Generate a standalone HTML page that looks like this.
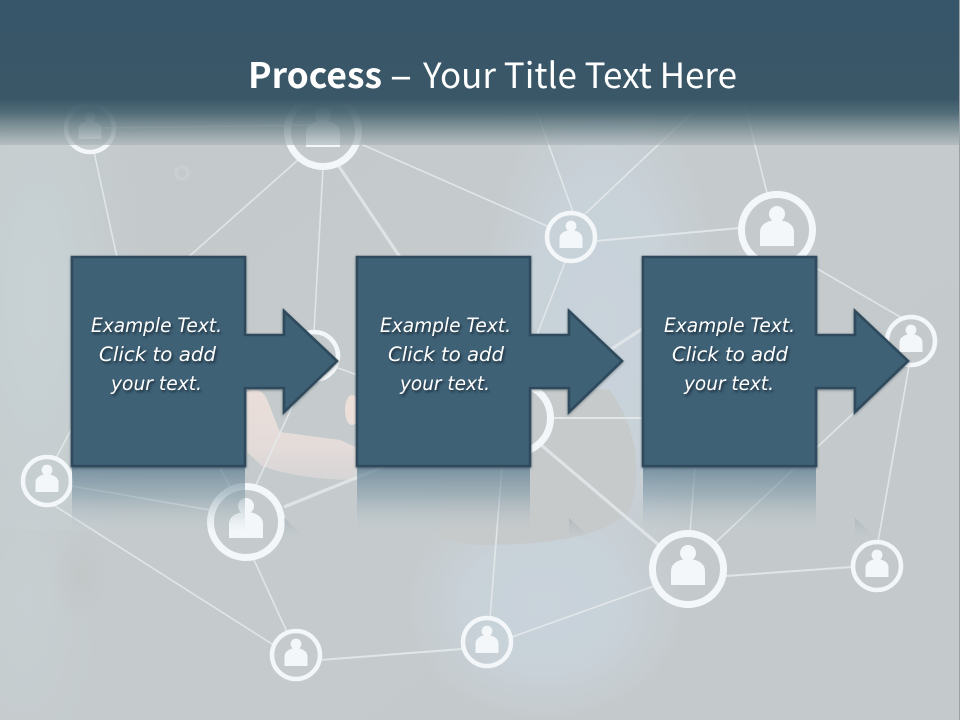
<!DOCTYPE html>
<html><head><meta charset="utf-8"><title>Process</title>
<style>html,body{margin:0;padding:0;width:960px;height:720px;overflow:hidden;background:#c3c9cb}svg{display:block}</style></head>
<body>
<svg xmlns="http://www.w3.org/2000/svg" width="960" height="720" viewBox="0 0 960 720">
<defs>
<linearGradient id="bg" x1="0" y1="0" x2="1" y2="1"><stop offset="0" stop-color="#c4c9ca"/><stop offset=".5" stop-color="#c5cbcd"/><stop offset="1" stop-color="#c4c9cb"/></linearGradient>
<linearGradient id="hd" x1="0" y1="0" x2="0" y2="1"><stop offset="0" stop-color="#38566a"/><stop offset=".68" stop-color="#3a5768"/><stop offset=".78" stop-color="#46626f" stop-opacity=".9"/><stop offset=".9" stop-color="#74898f" stop-opacity=".72"/><stop offset="1" stop-color="#a9b4b9" stop-opacity=".62"/></linearGradient>
<linearGradient id="rf" x1="0" y1="0" x2="0" y2="1"><stop offset="0" stop-color="#5f7f92" stop-opacity=".78"/><stop offset=".45" stop-color="#7d97a6" stop-opacity=".5"/><stop offset="1" stop-color="#b8c4ca" stop-opacity="0"/></linearGradient>
<linearGradient id="tri" x1="0" y1="0" x2="0" y2="1"><stop offset="0" stop-color="#8fa0aa" stop-opacity=".4"/><stop offset="1" stop-color="#a8b5bc" stop-opacity="0"/></linearGradient>
<radialGradient id="blue"><stop offset="0" stop-color="#c9d3db" stop-opacity="1"/><stop offset=".6" stop-color="#c9d3db" stop-opacity=".8"/><stop offset="1" stop-color="#c9d3db" stop-opacity="0"/></radialGradient>
<radialGradient id="lft" cx=".25" cy=".5" r=".75"><stop offset="0" stop-color="#c8d2d5" stop-opacity=".95"/><stop offset="1" stop-color="#c8d2d5" stop-opacity="0"/></radialGradient>
<radialGradient id="smg"><stop offset="0" stop-color="#bcbcbc" stop-opacity=".35"/><stop offset="1" stop-color="#bcbcbc" stop-opacity="0"/></radialGradient>
<linearGradient id="hand" x1="0" y1="0" x2="0" y2="1"><stop offset="0" stop-color="#eee0da"/><stop offset=".6" stop-color="#e8dedb"/><stop offset="1" stop-color="#d8d6d7"/></linearGradient>
<filter id="ts" color-interpolation-filters="sRGB" x="-10%" y="-30%" width="125%" height="170%"><feDropShadow dx="1.5" dy="2" stdDeviation="1.4" flood-color="#0d1c26" flood-opacity=".75"/></filter>
<filter id="ss" color-interpolation-filters="sRGB" x="-5%" y="-5%" width="110%" height="110%"><feDropShadow dx="0" dy="1" stdDeviation="1.2" flood-color="#20323e" flood-opacity=".5"/></filter>
<g id="big"><circle r="35.5" fill="none" stroke="#f3f7f9" stroke-width="7"/><circle cy="-16" r="8" fill="#f3f7f9"/><rect x="-5" y="-14" width="10" height="10" fill="#f3f7f9"/><path d="M-17,16 V2 C-17,-14 17,-14 17,2 V16 Z" fill="#f3f7f9"/></g>
<g id="small"><circle r="24" fill="none" stroke="#f3f7f9" stroke-width="4.5"/><circle cy="-11" r="5.4" fill="#f3f7f9"/><rect x="-3.5" y="-9" width="7" height="7" fill="#f3f7f9"/><path d="M-11.5,11 V1.5 C-11.5,-9.5 11.5,-9.5 11.5,1.5 V11 Z" fill="#f3f7f9"/></g>
<path id="sh" d="M0,0 H173 V78 H212 V54 L265,104 L212,155 V131 H173 V209 H0 Z"/>
</defs>

<rect width="960" height="720" fill="url(#bg)"/>
<!-- soft background shapes -->
<rect x="0" y="70" width="145" height="460" fill="url(#lft)"/>
<rect x="0" y="480" width="100" height="240" fill="url(#lft)" opacity=".6"/>
<ellipse cx="600" cy="330" rx="120" ry="260" fill="url(#blue)"/>
<rect x="405" y="490" width="280" height="230" fill="url(#blue)"/>
<path d="M535,385 L610,390 Q650,450 630,510 Q600,545 480,545 L440,540 L445,470 Z" fill="#c6cacb"/>
<path d="M247,392 Q262,385 268,402 L280,432 L340,440 L358,448 V480 Q300,480 262,466 L247,452 Z" fill="url(#hand)" opacity=".9"/>
<ellipse cx="352" cy="410" rx="7" ry="15" fill="#ecdfd9"/>
<ellipse cx="80" cy="575" rx="28" ry="45" fill="url(#smg)"/>
<circle cx="182" cy="173" r="6" fill="none" stroke="#d3d8da" stroke-width="3" opacity=".45"/>

<!-- connectors -->
<g stroke="#e6ebed" fill="none" stroke-width="1.6" opacity=".82">
<path d="M90,128 L323,125"/><path d="M94,152 L118,262"/><path d="M72,428 L56,458"/>
<path d="M298,160 L185,260"/><path d="M323,168 L314,332"/>
<path d="M361,144 L547,226"/><path d="M573,212 L536,110"/><path d="M585,214 L695,110"/>
<path d="M596,241 L740,228" stroke-width="2"/><path d="M767,193 L745,105"/>
<path d="M816,268 L902,318"/><path d="M565,262 L535,340"/>
<path d="M72,486 L210,510"/><path d="M55,506 L272,644"/><path d="M254,560 L287,632"/>
<path d="M320,660 L462,649" stroke-width="2"/><path d="M512,637 L654,586"/>
<path d="M726,576 L852,567" stroke-width="2"/><path d="M909,366 L878,542"/>
<path d="M256,485 L316,355"/><path d="M338,368 L360,376"/><path d="M218,465 L232,490"/>
<path d="M552,418 L645,418" stroke-width="2"/>
<path d="M502,466 L490,618"/><path d="M695,466 L690,532"/>
<path d="M716,542 L860,407"/>
</g>
<g stroke="#e4e9eb" fill="none" stroke-width="3.2" opacity=".8">
<path d="M338,165 L402,260"/>
<path d="M284,507 L395,462"/>
<path d="M540,444 L660,546"/>
<path d="M610,350 L648,325"/>
</g>

<!-- nodes -->
<use href="#small" x="90" y="128"/>
<use href="#big" x="323" y="131"/>
<use href="#small" x="571" y="237"/>
<use href="#big" x="777" y="230"/>
<use href="#small" x="911" y="341"/>
<use href="#small" x="47" y="481"/>
<use href="#big" x="246" y="522"/>
<use href="#small" x="296" y="655"/>
<use href="#small" x="487" y="642"/>
<use href="#big" x="688" y="569"/>
<use href="#small" x="877" y="566"/>
<use href="#small" x="314" y="356"/>
<circle cx="516" cy="418" r="34.5" fill="none" stroke="#f3f7f9" stroke-width="7"/>

<!-- header band -->
<rect x="0" y="0" width="960" height="145" fill="url(#hd)"/>

<!-- reflections -->
<rect x="72" y="466" width="173" height="66" fill="url(#rf)"/>
<rect x="357" y="466" width="173" height="66" fill="url(#rf)"/>
<rect x="643" y="466" width="173" height="66" fill="url(#rf)"/>
<polygon points="284,518 306,538 284,538" fill="url(#tri)"/>
<polygon points="569,518 591,538 569,538" fill="url(#tri)"/>
<polygon points="855,518 877,538 855,538" fill="url(#tri)"/>

<!-- process shapes -->
<g fill="#3f6176" stroke="#2e4a5c" stroke-width="2.6" stroke-linejoin="miter" filter="url(#ss)">
<use href="#sh" x="72" y="257"/>
<use href="#sh" x="357" y="257"/>
<use href="#sh" x="643" y="257"/>
</g>

<!-- title -->
<text x="248" y="88" fill="#ffffff" font-family="'Noto Sans CJK JP','Liberation Sans',sans-serif" font-size="35" font-weight="700" textLength="134" lengthAdjust="spacingAndGlyphs">Process</text>
<text x="390" y="88" fill="#ffffff" font-family="'Noto Sans CJK JP','Liberation Sans',sans-serif" font-size="35" font-weight="500" textLength="22" lengthAdjust="spacingAndGlyphs">–</text>
<text x="423" y="88" fill="#ffffff" font-family="'Noto Sans CJK JP','Liberation Sans',sans-serif" font-size="35" textLength="314" lengthAdjust="spacingAndGlyphs">Your Title Text Here</text>

<!-- body text -->
<g fill="#ffffff" font-family="'DejaVu Sans','Liberation Sans',sans-serif" font-style="italic" font-size="19.5" filter="url(#ts)">
<text x="91" y="332" textLength="131" lengthAdjust="spacingAndGlyphs">Example Text.</text>
<text x="99" y="361" textLength="117" lengthAdjust="spacingAndGlyphs">Click to add</text>
<text x="111" y="390" textLength="91" lengthAdjust="spacingAndGlyphs">your text.</text>
<text x="380" y="332" textLength="131" lengthAdjust="spacingAndGlyphs">Example Text.</text>
<text x="388" y="361" textLength="116" lengthAdjust="spacingAndGlyphs">Click to add</text>
<text x="400" y="390" textLength="90" lengthAdjust="spacingAndGlyphs">your text.</text>
<text x="664" y="332" textLength="131" lengthAdjust="spacingAndGlyphs">Example Text.</text>
<text x="672" y="361" textLength="116" lengthAdjust="spacingAndGlyphs">Click to add</text>
<text x="684" y="390" textLength="90" lengthAdjust="spacingAndGlyphs">your text.</text>
</g>
<rect x="959" y="0" width="1" height="720" fill="#9aa3a8"/>
</svg>
</body></html>
